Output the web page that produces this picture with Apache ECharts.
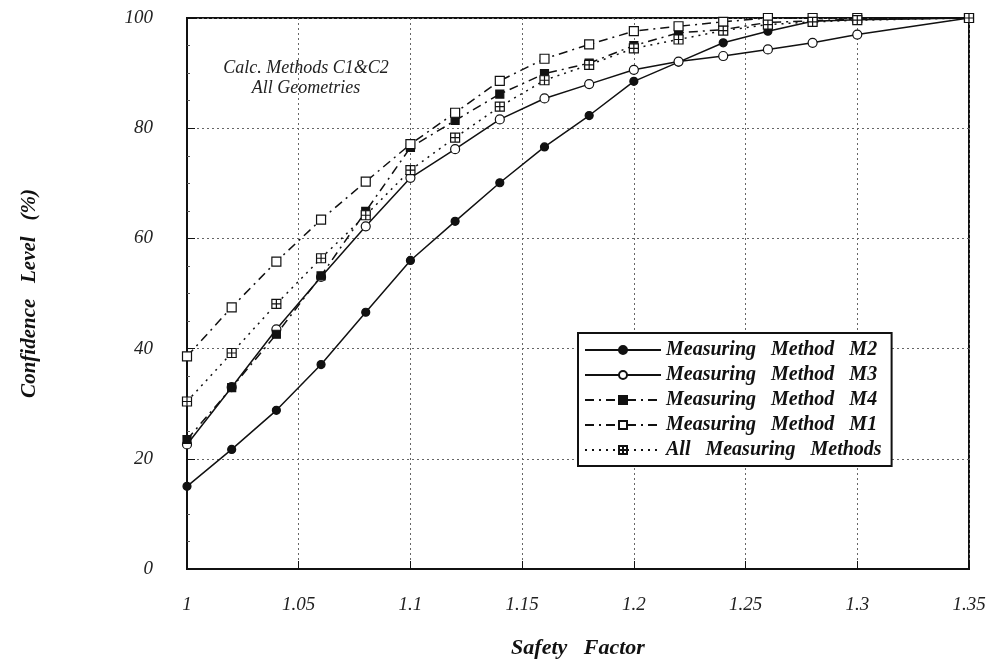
<!DOCTYPE html>
<html>
<head>
<meta charset="utf-8">
<script src="https://cdn.jsdelivr.net/npm/echarts@6/dist/echarts.min.js"></script>
<style>html,body{margin:0;padding:0;background:#fff;}#c{width:994px;height:664px;}</style>
</head>
<body>
<div id="c"></div>
<script>
const safetyFactor = [1.00, 1.02, 1.04, 1.06, 1.08, 1.10, 1.12, 1.14, 1.16, 1.18, 1.20, 1.22, 1.24, 1.26, 1.28, 1.30, 1.35];
const m2  = [15.0, 21.7, 28.8, 37.1, 46.6, 56.0, 63.1, 70.1, 76.6, 82.3, 88.5, 92.0, 95.5, 97.6, 99.4, 99.7, 100];
const m3  = [22.6, 33.0, 43.5, 53.0, 62.2, 71.0, 76.2, 81.6, 85.4, 88.0, 90.6, 92.1, 93.1, 94.3, 95.5, 97.0, 100];
const m4  = [23.5, 32.9, 42.6, 53.2, 64.9, 76.5, 81.4, 86.2, 89.9, 91.8, 95.0, 97.3, 97.9, 99.2, 99.5, 99.8, 100];
const m1  = [38.6, 47.5, 55.8, 63.4, 70.3, 77.1, 82.8, 88.6, 92.6, 95.2, 97.6, 98.5, 99.3, 100, 100, 100, 100];
const all = [30.4, 39.2, 48.1, 56.4, 64.2, 72.4, 78.3, 83.9, 88.7, 91.5, 94.5, 96.1, 97.7, 98.8, 99.3, 99.6, 100];
const xTicks = [1, 1.05, 1.1, 1.15, 1.2, 1.25, 1.3, 1.35];
const yTicks = [0, 20, 40, 60, 80, 100];
const seriesNames = ['Measuring   Method   M2', 'Measuring   Method   M3', 'Measuring   Method   M4', 'Measuring   Method   M1', 'All   Measuring   Methods'];
const annotation = 'Calc. Methods C1&C2\nAll Geometries';

const pair = arr => safetyFactor.map((x, i) => [x, arr[i]]);
const crossBox = 'path://M0,0H10V10H0Z M5,0V10 M0,5H10';
const serif = 'Liberation Serif';

function mk(name, data, symbol, filled, lineType, size) {
  return {
    name, type: 'line', data: pair(data), symbol, symbolSize: size,
    showAllSymbol: true,
    lineStyle: { color: '#111', width: 1.5, type: lineType },
    itemStyle: { color: filled ? '#111' : '#fff', borderColor: '#111', borderWidth: 1.2 },
    emphasis: { disabled: true }, z: 3
  };
}

const chart = echarts.init(document.getElementById('c'));
chart.setOption({
  animation: false,
  backgroundColor: '#fff',
  grid: { left: 187, right: 25, top: 18, bottom: 89, show: true, borderColor: '#111', borderWidth: 2, backgroundColor: 'transparent' },
  title: {
    text: annotation, left: 306, top: 58, textAlign: 'center', padding: 0,
    textStyle: { fontFamily: serif, fontStyle: 'italic', fontWeight: 'normal', fontSize: 18, color: '#222', lineHeight: 20 }
  },
  legend: {
    orient: 'vertical', left: 578, top: 333,
    backgroundColor: '#fff', borderColor: '#111', borderWidth: 2,
    padding: [7, 10, 6, 6], itemGap: 5, itemWidth: 76, itemHeight: 10,
    data: seriesNames,
    textStyle: { fontFamily: serif, fontStyle: 'italic', fontWeight: 'bold', fontSize: 20, color: '#111' }
  },
  xAxis: {
    type: 'value', min: 1, max: 1.35, interval: 0.05,
    name: 'Safety   Factor', nameLocation: 'middle', nameGap: 68,
    nameTextStyle: { fontFamily: serif, fontStyle: 'italic', fontWeight: 'bold', fontSize: 22, color: '#111' },
    axisLine: { show: true, onZero: false, lineStyle: { color: '#111', width: 2 } },
    axisTick: { show: true, inside: true, length: 8, lineStyle: { color: '#111' } },
    axisLabel: {
      margin: 26, showMaxLabel: true, showMinLabel: true,
      fontFamily: serif, fontStyle: 'italic', fontSize: 19, color: '#222',
      formatter: v => { const r = Math.round(v * 100) / 100; return xTicks.includes(r) ? String(r) : ''; }
    },
    splitLine: { show: true, lineStyle: { color: '#666', width: 1, type: [2, 3] } }
  },
  yAxis: {
    type: 'value', min: 0, max: 100, interval: 20,
    name: 'Confidence   Level   (%)', nameLocation: 'middle', nameGap: 147, nameRotate: 90,
    nameTextStyle: { fontFamily: serif, fontStyle: 'italic', fontWeight: 'bold', fontSize: 21, color: '#111' },
    axisLine: { show: true, lineStyle: { color: '#111', width: 2 } },
    axisTick: { show: true, inside: true, length: 8, lineStyle: { color: '#111' } },
    minorTick: { show: true, splitNumber: 4, length: 3, lineStyle: { color: '#555' } },
    axisLabel: {
      margin: 34, fontFamily: serif, fontStyle: 'italic', fontSize: 19, color: '#222',
      formatter: v => yTicks.includes(v) ? String(v) : ''
    },
    splitLine: { show: true, lineStyle: { color: '#666', width: 1, type: [2, 3] } }
  },
  series: [
    mk(seriesNames[0], m2, 'circle', true, 'solid', 8),
    mk(seriesNames[1], m3, 'circle', false, 'solid', 9),
    mk(seriesNames[2], m4, 'rect', true, [9, 5, 2, 5], 8),
    mk(seriesNames[3], m1, 'rect', false, [9, 5, 2, 5], 9),
    mk(seriesNames[4], all, crossBox, false, [2, 5], 9)
  ]
});
</script>
</body>
</html>
